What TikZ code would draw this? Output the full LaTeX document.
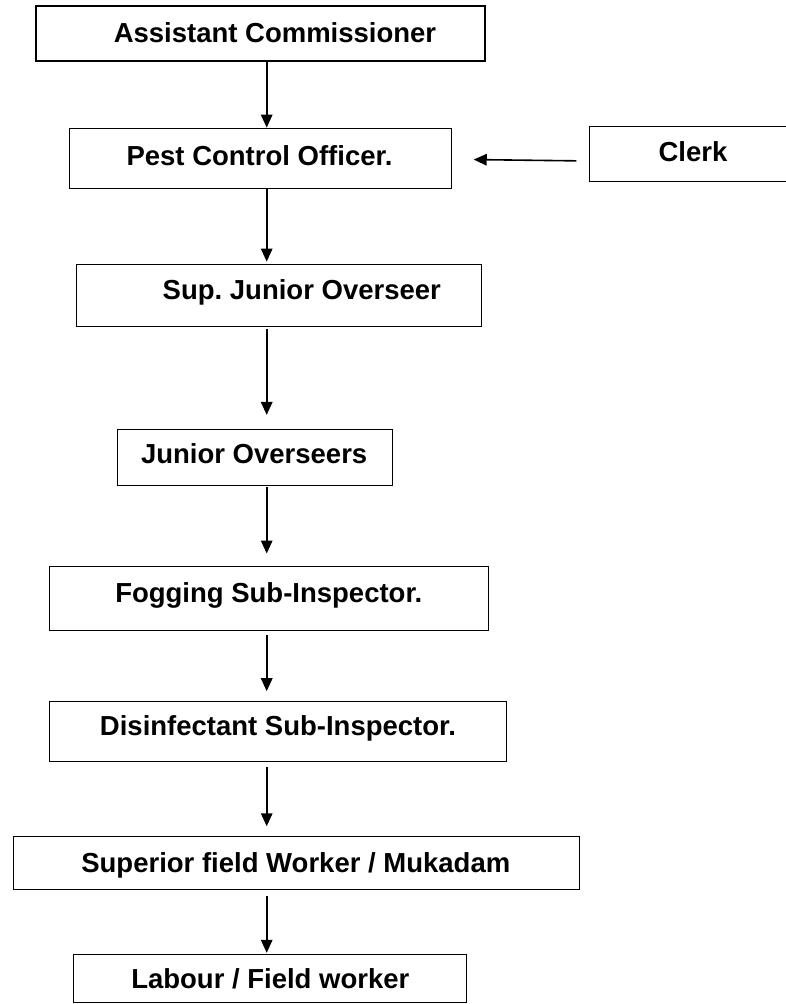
\documentclass[tikz,border=0pt]{standalone}
\usepackage{fontspec}
\setmainfont{Liberation Sans}
\usetikzlibrary{arrows.meta}
\frenchspacing
\begin{document}
\begin{tikzpicture}[x=1pt,y=-1pt,
  box/.style={draw=black, line width=0.9pt, inner sep=0pt},
  lbl/.style={anchor=base, inner sep=0pt, font=\fontsize{27.5}{33}\selectfont\bfseries},
  arr/.style={line width=1.6pt, -{Triangle[width=11.5pt,length=13pt]}}]
\useasboundingbox (0,0) rectangle (786,1004);
\fill[white] (0,0) rectangle (786,1004);
\coordinate (sp) at (266.7,0);
% boxes
\node[box, line width=1.5pt, minimum width=449pt, minimum height=55pt] (ac) at (260.5,33.5) {};
\node[box, minimum width=382pt, minimum height=60.3pt] (pco) at (260,158.2) {};
\node[box, minimum width=210.7pt, minimum height=55pt] (clerk) at (694.7,153.5) {};
\node[box, minimum width=405pt, minimum height=62pt] (sjo) at (278.5,295) {};
\node[box, minimum width=275pt, minimum height=55.7pt] (jo) at (254.8,457.2) {};
\node[box, minimum width=439pt, minimum height=63.3pt] (fsi) at (268.8,598.3) {};
\node[box, minimum width=457.4pt, minimum height=59.3pt] (dsi) at (278,731.3) {};
\node[box, minimum width=565.7pt, minimum height=52.6pt] (sfw) at (296.2,863) {};
\node[box, minimum width=392.7pt, minimum height=48.7pt] (lfw) at (269.7,978.3) {};
% labels
\node[lbl] (acT) at (275,42) {Assistant Commissioner};
\node[lbl] (pcoT) at (259.5,165) {Pest Control Officer.};
\node[lbl] (clerkT) at (693,161) {Clerk};
\node[lbl] (sjoT) at (301.8,299) {Sup. Junior Overseer};
\node[lbl] (joT) at (254.2,463.3) {Junior Overseers};
\node[lbl] (fsiT) at (268.8,602) {Fogging Sub-Inspector.};
\node[lbl] (dsiT) at (278,735) {Disinfectant Sub-Inspector.};
\node[lbl] (sfwT) at (295.8,872.7) {Superior field Worker / Mukadam};
\node[lbl] (lfwT) at (270.3,988.3) {Labour / Field worker};
% connectors
\draw[arr] (ac.south -| sp) -- (pco.north -| sp);
\draw[arr, shorten >=2pt] (pco.south -| sp) -- (sjo.north -| sp);
\draw[arr, shorten <=3pt, shorten >=14pt] (sjo.south -| sp) -- (jo.north -| sp);
\draw[arr, shorten <=1pt, shorten >=12.7pt] (jo.south -| sp) -- (fsi.north -| sp);
\draw[arr, shorten <=5pt, shorten >=10pt] (fsi.south -| sp) -- (dsi.north -| sp);
\draw[arr, shorten <=5.7pt, shorten >=10pt] (dsi.south -| sp) -- (sfw.north -| sp);
\draw[arr, shorten <=6.7pt, shorten >=0.7pt] (sfw.south -| sp) -- (lfw.north -| sp);
\draw[arr, shorten <=12.6pt, shorten >=22.3pt] ([yshift=-7.5pt]clerk.west) -- ([yshift=-1.1pt]pco.east);
\end{tikzpicture}
\end{document}
